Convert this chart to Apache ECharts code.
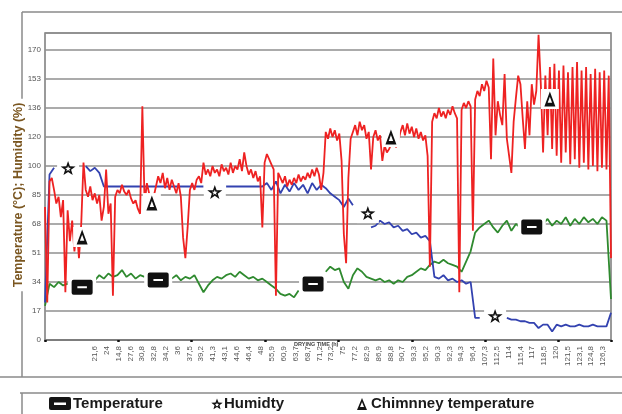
<!DOCTYPE html>
<html><head><meta charset="utf-8">
<script src="https://cdn.jsdelivr.net/npm/echarts@6/dist/echarts.min.js"></script>
<style>html,body{margin:0;padding:0;background:#fff}#c{width:622px;height:414px}</style>
</head><body><div id="c"></div>
<script>
// ---- data ----
const xLabels = ['21,6','24','14,8','27,6','30,8','32,8','34,2','36','37,5','39,2','41,3','43,1','44,6','46,4','48','55,9','60,9','63,7','68,7','71,2','73,2','75','77,2','82,9','86,9','88,8','90,7','93,3','95,2','90,3','92,3','94,3','96,4','107,3','112,5','114','115,4','117','118,5','120','121,5','123,1','124,8','126,3'];
const yTickValues = [0,17,34,51,68,85,102,119,136,153,170];
const yTickLabels = ['0','17','34','51','68','85','100','120','136','153','170'];

const chimneyStep = 0.5; // hours between readings
const chimney = [
78,22,93,95,88,80,84,72,82,28,
76,58,70,52,66,48,68,104,88,84,
90,82,86,80,85,70,78,100,74,80,
26,84,88,86,91,87,85,88,83,80,
82,77,74,137,80,92,86,80,84,90,
96,92,98,89,95,88,94,90,86,92,
84,60,48,66,88,92,88,94,96,92,
104,97,100,96,102,98,100,96,103,99,
101,97,104,98,102,100,106,99,110,102,
97,100,95,99,93,96,66,104,109,106,
103,100,26,98,95,92,96,90,94,91,
95,92,97,93,96,94,98,95,100,96,
101,97,88,98,122,118,124,119,123,117,
121,105,62,45,95,118,122,126,120,128,
123,126,118,122,100,119,123,117,120,105,
114,110,112,115,118,113,116,122,126,120,
127,121,125,119,124,118,122,117,120,108,
43,128,133,130,136,131,134,130,135,132,
137,133,130,28,135,139,136,140,137,64,
141,146,143,150,146,152,148,106,165,120,
140,132,126,156,118,108,98,128,142,155,
150,130,112,140,120,150,138,146,179,150,
110,155,120,160,112,162,108,158,104,161,
110,157,103,160,106,163,101,158,104,160,
100,156,102,159,99,157,101,158,100,155,
48];

const step = 1; // hours between readings
const humidity = [
22,97,101,null,null,null,null,null,null,102,
99,101,98,90,90,90,90,90,90,90,
90,90,90,90,90,90,90,90,90,90,
90,90,90,90,90,90,null,null,null,null,
90,90,90,90,90,90,90,90,90,92,
88,93,86,91,87,92,88,91,86,92,
88,91,89,86,84,82,78,83,79,null,
null,null,66,67,70,68,69,66,67,64,
65,62,63,60,61,58,37,36,38,35,
36,34,35,33,34,13,13,null,null,null,
null,null,13,12,12,11,11,10,10,7,
9,9,5,9,8,9,8,8,9,8,
8,9,8,8,8,16];

const temperature = [
20,33,31,34,32,33,null,null,null,null,
null,35,38,36,39,37,38,41,37,39,
36,38,37,null,null,null,null,null,36,38,
35,37,36,38,33,28,32,35,37,36,
38,39,37,40,38,36,37,35,36,34,
32,30,27,26,27,25,29,null,null,null,
null,null,40,43,41,42,34,30,38,42,
40,37,36,35,36,34,35,33,35,34,
37,38,40,42,41,44,46,45,47,45,
44,43,40,46,52,63,66,68,70,66,
63,67,70,64,68,66,null,null,null,null,
68,71,67,70,68,72,67,71,68,72,
69,71,68,72,70,24];

// marker annotations [hours, value]
const tempMarkers = [[8.2,31],[25.0,35.2],[59.2,32.8],[107.5,66.2]];
const humMarkers = [[5.1,100.8],[37.5,86.8],[71.3,74.4],[99.4,14.1]];
const chimMarkers = [[8.2,60.4],[23.6,80.3],[76.4,119],[111.5,141.3]];

// ---- symbols ----
const P_TEMP = 'path://M2,0 H20 Q22,0 22,2 V13 Q22,15 20,15 H2 Q0,15 0,13 V2 Q0,0 2,0 Z M6,6.5 V8.5 H16 V6.5 Z';
const P_STAR = 'path://M10,0 L12.35,6.76 L19.51,6.91 L13.8,11.24 L15.88,18.09 L10,14 L4.12,18.09 L6.2,11.24 L0.49,6.91 L7.65,6.76 Z M10,6.2 L9.1,8.7 L6.4,8.8 L8.5,10.4 L7.8,13 L10,11.5 L12.2,13 L11.5,10.4 L13.6,8.8 L10.9,8.7 Z';
const P_DELTA = 'path://M6,0 L12,14 L0,14 Z M6,5 L3.6,10.6 L8.4,10.6 Z';

const toXY = (arr, s) => arr.map((v, i) => [i * s, v === null ? '-' : v]);
const FONT = 'Liberation Sans, Arial, sans-serif';

// star polygon points for legend icon (centre cx,cy; radius R)
function starPts(cx, cy, R, r) {
  const pts = [];
  for (let k = 0; k < 10; k++) {
    const a = (-90 + 36 * k) * Math.PI / 180;
    const rr = k % 2 ? r : R;
    pts.push([cx + rr * Math.cos(a), cy + rr * Math.sin(a)]);
  }
  return pts;
}

const chart = echarts.init(document.getElementById('c'), null, {renderer: 'canvas'});

function boxSeries(data, size) {
  return {type: 'scatter', data: data, symbol: 'rect', symbolSize: size, itemStyle: {color: '#fff', opacity: 1}, z: 5, silent: true, xAxisIndex: 0, yAxisIndex: 0};
}
function markSeries(name, data, sym, size) {
  return {name: name, type: 'scatter', data: data, symbol: sym, symbolSize: size,
    itemStyle: {color: '#111', opacity: 1}, z: 6, emphasis: {disabled: true}};
}
const legendText = (x, t) => ({type: 'text', x: x, y: 404, z: 10,
  style: {text: t, font: 'bold 15px ' + FONT, fill: '#1a1a1a', verticalAlign: 'middle', textVerticalAlign: 'middle'}});
const gline = (x1, y1, x2, y2) => ({type: 'line', shape: {x1, y1, x2, y2}, style: {stroke: '#8a8a8a', lineWidth: 1.5}, z: 1});

chart.setOption({
  animation: false,
  backgroundColor: '#fff',
  grid: [
    {left: 45, top: 33, width: 566, height: 307, show: true, borderColor: '#7a7a7a', borderWidth: 1.5},
    {left: 89, top: 33, width: 520, height: 307, show: false}
  ],
  xAxis: [
    {type: 'value', gridIndex: 0, min: 0, max: 125, interval: 16.2,
     axisLine: {show: true, lineStyle: {color: '#777', width: 1.5}},
     axisTick: {show: true, length: 2, lineStyle: {color: '#111', width: 2.5}},
     axisLabel: {show: false}, splitLine: {show: false}},
    {type: 'category', gridIndex: 1, data: xLabels, boundaryGap: true,
     axisLine: {show: false}, axisTick: {show: false}, splitLine: {show: false},
     axisLabel: {interval: 0, rotate: 90, fontSize: 8, color: '#555', margin: 6, fontFamily: FONT}}
  ],
  yAxis: [
    {type: 'value', gridIndex: 0, min: 0, max: 180, interval: 17,
     axisLine: {show: false}, axisTick: {show: false},
     axisLabel: {fontSize: 8, color: '#555', margin: 4, fontFamily: FONT,
       formatter: v => { const k = yTickValues.indexOf(v); return k >= 0 ? yTickLabels[k] : ''; }},
     splitLine: {show: true, lineStyle: {color: '#8f8f8f', width: 1.5}}},
    {type: 'value', gridIndex: 1, show: false, min: 0, max: 180}
  ],
  series: [
    {name: 'temperature line', type: 'line', data: toXY(temperature, step), showSymbol: false, symbol: 'none',
     lineStyle: {color: '#2f8a2f', width: 1.8}, z: 2, connectNulls: false},
    {name: 'humidity line', type: 'line', data: toXY(humidity, step), showSymbol: false, symbol: 'none',
     lineStyle: {color: '#3342b0', width: 1.8}, z: 3, connectNulls: false},
    {name: 'chimney line', type: 'line', data: toXY(chimney, chimneyStep), showSymbol: false, symbol: 'none',
     lineStyle: {color: '#ee2222', width: 1.8}, z: 4, connectNulls: false},
    boxSeries(tempMarkers, [28, 20]),
    boxSeries(humMarkers, [22, 20]),
    boxSeries(chimMarkers, [18, 20]),
    markSeries('Temperature', tempMarkers, P_TEMP, [21, 15]),
    markSeries('Humidty', humMarkers, P_STAR, [15, 14]),
    markSeries('Chimnney temperature', chimMarkers, P_DELTA, [11, 15])
  ],
  graphic: [
    gline(22, 12, 622, 12),
    gline(22, 12, 22, 377),
    gline(0, 377, 622, 377),
    gline(20, 393, 622, 393),
    gline(22, 393, 22, 414),
    {type: 'text', x: 19, y: 195, rotation: Math.PI / 2, z: 10,
     style: {text: 'Temperature (°C); Humidity (%)', font: 'bold 12.5px ' + FONT, fill: '#7a5620',
       align: 'center', verticalAlign: 'middle', textAlign: 'center', textVerticalAlign: 'middle',
       backgroundColor: '#fff', padding: [0, 4]}},
    {type: 'text', x: 294, y: 344, z: 10,
     style: {text: 'DRYING TIME (h)', font: 'bold 5.5px ' + FONT, fill: '#444', verticalAlign: 'middle', textVerticalAlign: 'middle'}},
    // legend: temperature icon
    {type: 'rect', z: 10, shape: {x: 49, y: 397, width: 22, height: 13, r: 2}, style: {fill: '#141414'}},
    {type: 'rect', z: 11, shape: {x: 54, y: 402.5, width: 12, height: 2.5}, style: {fill: '#fff'}},
    legendText(73, 'Temperature'),
    // legend: star icon
    {type: 'polygon', z: 10, shape: {points: starPts(217, 404.5, 6, 2.6)}, style: {fill: '#141414'}},
    {type: 'polygon', z: 11, shape: {points: starPts(217, 404.8, 2.2, 1)}, style: {fill: '#fff'}},
    legendText(224, 'Humidty'),
    // legend: delta icon
    {type: 'polygon', z: 10, shape: {points: [[362, 398], [367, 410], [357, 410]]}, style: {fill: '#141414'}},
    {type: 'polygon', z: 11, shape: {points: [[362, 402], [360, 407], [364, 407]]}, style: {fill: '#fff'}},
    legendText(371, 'Chimnney temperature')
  ]
});
</script>
</body></html>
